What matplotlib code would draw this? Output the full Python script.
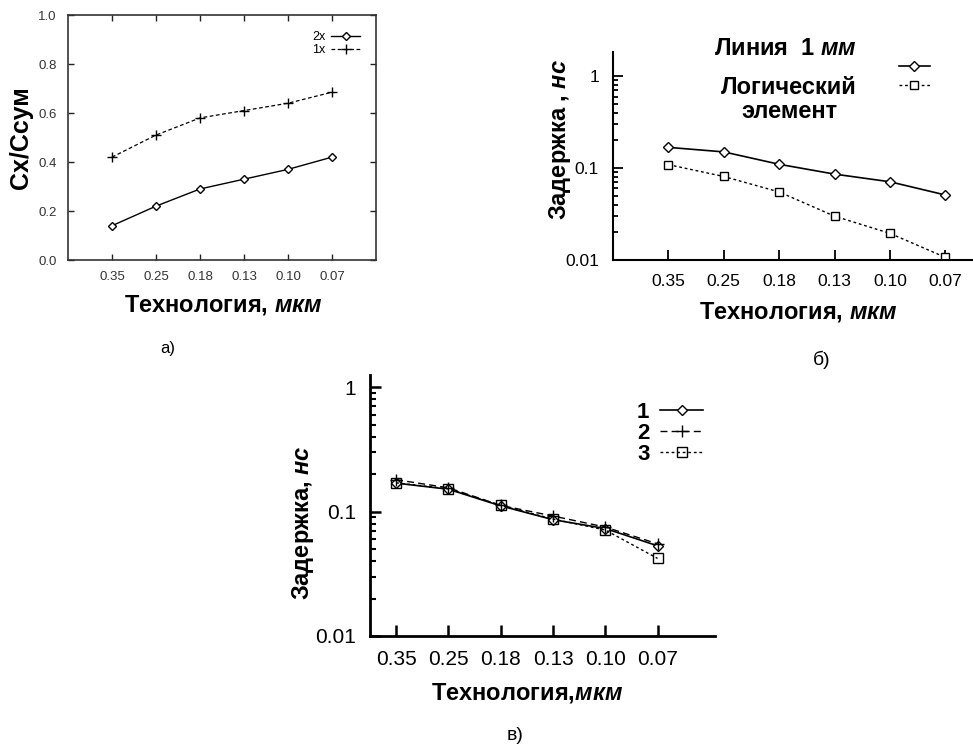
import matplotlib
matplotlib.use("Agg")
import matplotlib.pyplot as plt
from matplotlib.ticker import FixedLocator, FixedFormatter, LogLocator, NullFormatter

plt.rcParams['font.family'] = ['Liberation Sans', 'DejaVu Sans']
plt.rcParams['mathtext.fontset'] = 'custom'
plt.rcParams['mathtext.rm'] = 'Liberation Sans:bold'
plt.rcParams['mathtext.it'] = 'Liberation Sans:italic:bold'

# data
tech = ['0.35', '0.25', '0.18', '0.13', '0.10', '0.07']
ratio_2x = [0.14, 0.22, 0.29, 0.33, 0.37, 0.42]
ratio_1x = [0.42, 0.51, 0.58, 0.61, 0.64, 0.685]

delay_line = [0.168, 0.150, 0.110, 0.086, 0.071, 0.051]
delay_gate = [0.109, 0.081, 0.055, 0.030, 0.0195, 0.0107]

delay_1 = [0.169, 0.151, 0.111, 0.086, 0.073, 0.053]
delay_2 = [0.180, 0.155, 0.112, 0.092, 0.075, 0.055]
delay_3 = [0.170, 0.152, 0.112, 0.087, 0.071, 0.042]

xs = list(range(1, len(tech) + 1))

fig = plt.figure(figsize=(9.73, 7.44), dpi=100)

# ---- a) ----
ax1 = fig.add_axes([0.0699, 0.6505, 0.3165, 0.3293])
ax1.plot(xs, ratio_2x, '-', color='black', lw=1, marker='D', ms=4,
         mfc='white', mew=1, label='2x')
ax1.plot(xs, ratio_1x, color='black', lw=0.9, ls=(0, (3, 2)), marker='+',
         ms=7, mew=1, label='1x')
ax1.set_xlim(0, 7)
ax1.set_ylim(0, 1.0)
ax1.set_xticks(xs)
ax1.set_xticklabels(tech)
ax1.set_yticks([0.0, 0.2, 0.4, 0.6, 0.8, 1.0])
ax1.set_yticklabels(['0.0', '0.2', '0.4', '0.6', '0.8', '1.0'])
ax1.tick_params(direction='in', top=True, right=True, length=4, width=1,
                labelsize=9.5, labelcolor='#333333', color='#222222', pad=8)
for s in ax1.spines.values():
    s.set_color('#333333')
    s.set_linewidth(1.2)
ax1.set_ylabel('Cx/Ccум', fontsize=18, fontweight='bold')
ax1.yaxis.set_label_coords(-0.153, 0.5)
ax1.yaxis.label.set_va('center')
ax1.set_xlabel(r'Технология, $\mathit{мкм}$', fontsize=17, fontweight='bold')
ax1.xaxis.set_label_coords(0.503, -0.184)
ax1.xaxis.label.set_va('center')
ax1.legend(loc='upper right', bbox_to_anchor=(0.965, 0.955), frameon=False,
           markerfirst=False, fontsize=9, handlelength=2.3, labelspacing=0.1,
           handletextpad=0.5, borderaxespad=0)
fig.text(0.172, 0.532, 'а)', fontsize=12, ha='center', va='center')

# ---- б) ----
ax2 = fig.add_axes([0.630, 0.6505, 0.370, 0.2796])
l1, = ax2.plot(xs, delay_line, '-', color='black', lw=1.2, marker='D', ms=5,
               mfc='white', mew=1)
l2, = ax2.plot(xs, delay_gate, color='black', lw=1, ls=(0, (2, 2)), marker='s',
               ms=6, mfc='white', mew=1)
ax2.set_yscale('log')
ax2.set_xlim(0, 6.5)
ax2.set_ylim(0.01, 1.83)
ax2.set_xticks(xs)
ax2.set_xticklabels(tech)
ax2.yaxis.set_major_locator(FixedLocator([0.01, 0.1, 1]))
ax2.yaxis.set_major_formatter(FixedFormatter(['0.01', '0.1', '1']))
ax2.yaxis.set_minor_locator(LogLocator(base=10, subs=range(2, 10)))
ax2.yaxis.set_minor_formatter(NullFormatter())
ax2.spines['top'].set_visible(False)
ax2.spines['right'].set_visible(False)
for s in ['left', 'bottom']:
    ax2.spines[s].set_linewidth(1.5)
ax2.tick_params(which='major', direction='in', length=7, width=1.3,
                labelsize=12.5, pad=10)
ax2.tick_params(which='minor', direction='in', length=3.5, width=1.3)
ax2.set_ylabel(r'Задержка , $\mathit{нс}$', fontsize=17, fontweight='bold')
ax2.yaxis.set_label_coords(-0.147, 0.58)
ax2.yaxis.label.set_va('center')
ax2.set_xlabel(r'Технология, $\mathit{мкм}$', fontsize=17, fontweight='bold')
ax2.xaxis.set_label_coords(0.514, -0.25)
ax2.xaxis.label.set_va('center')
fig.legend([l1, l2], ['', ''], loc='center left',
           bbox_to_anchor=(0.917, 0.897), frameon=False, fontsize=10,
           handlelength=2.2, labelspacing=0.35, handletextpad=0, borderpad=0)
fig.text(0.807, 0.935, r'Линия  1 $\mathit{мм}$', fontsize=17,
         fontweight='bold', ha='center', va='center')
fig.text(0.811, 0.866, 'Логический\nэлемент', fontsize=17, fontweight='bold',
         ha='center', va='center', linespacing=1.05)
fig.text(0.845, 0.516, 'б)', fontsize=14, ha='center', va='center')

# ---- в) ----
ax3 = fig.add_axes([0.3803, 0.1452, 0.3546, 0.3508])
ax3.plot(xs, delay_1, '-', color='black', lw=1.2, marker='D', ms=5,
         mfc='white', mew=1, label='1')
ax3.plot(xs, delay_2, color='black', lw=1, ls=(0, (5, 3)), marker='+',
         ms=9, mew=1, label='2')
ax3.plot(xs, delay_3, color='black', lw=1, ls=(0, (2, 2)), marker='s',
         ms=7, mfc='none', mew=1, label='3')
ax3.set_yscale('log')
ax3.set_xlim(0.5, 7.1)
ax3.set_ylim(0.01, 1.25)
ax3.set_xticks(xs)
ax3.set_xticklabels(tech)
ax3.yaxis.set_major_locator(FixedLocator([0.01, 0.1, 1]))
ax3.yaxis.set_major_formatter(FixedFormatter(['0.01', '0.1', '1']))
ax3.yaxis.set_minor_locator(LogLocator(base=10, subs=range(2, 10)))
ax3.yaxis.set_minor_formatter(NullFormatter())
ax3.spines['top'].set_visible(False)
ax3.spines['right'].set_visible(False)
for s in ['left', 'bottom']:
    ax3.spines[s].set_linewidth(2)
ax3.tick_params(which='major', direction='in', length=8, width=1.8,
                labelsize=15, pad=10)
ax3.tick_params(which='minor', direction='in', length=4, width=1.5)
ax3.set_ylabel(r'Задержка, $\mathit{нс}$', fontsize=17, fontweight='bold')
ax3.yaxis.set_label_coords(-0.194, 0.433)
ax3.yaxis.label.set_va('center')
ax3.set_xlabel(r'Технология,$\mathit{мкм}$', fontsize=17, fontweight='bold')
ax3.xaxis.set_label_coords(0.455, -0.218)
ax3.xaxis.label.set_va('center')
leg3 = ax3.legend(loc='upper right', bbox_to_anchor=(0.99, 0.93),
                  frameon=False, markerfirst=False,
                  prop={'size': 16, 'weight': 'bold'}, handlelength=1.9,
                  labelspacing=0.0, handletextpad=0.5, borderaxespad=0)
fig.text(0.529, 0.012, 'в)', fontsize=14, ha='center', va='center')

fig.savefig('out.png', dpi=100)
